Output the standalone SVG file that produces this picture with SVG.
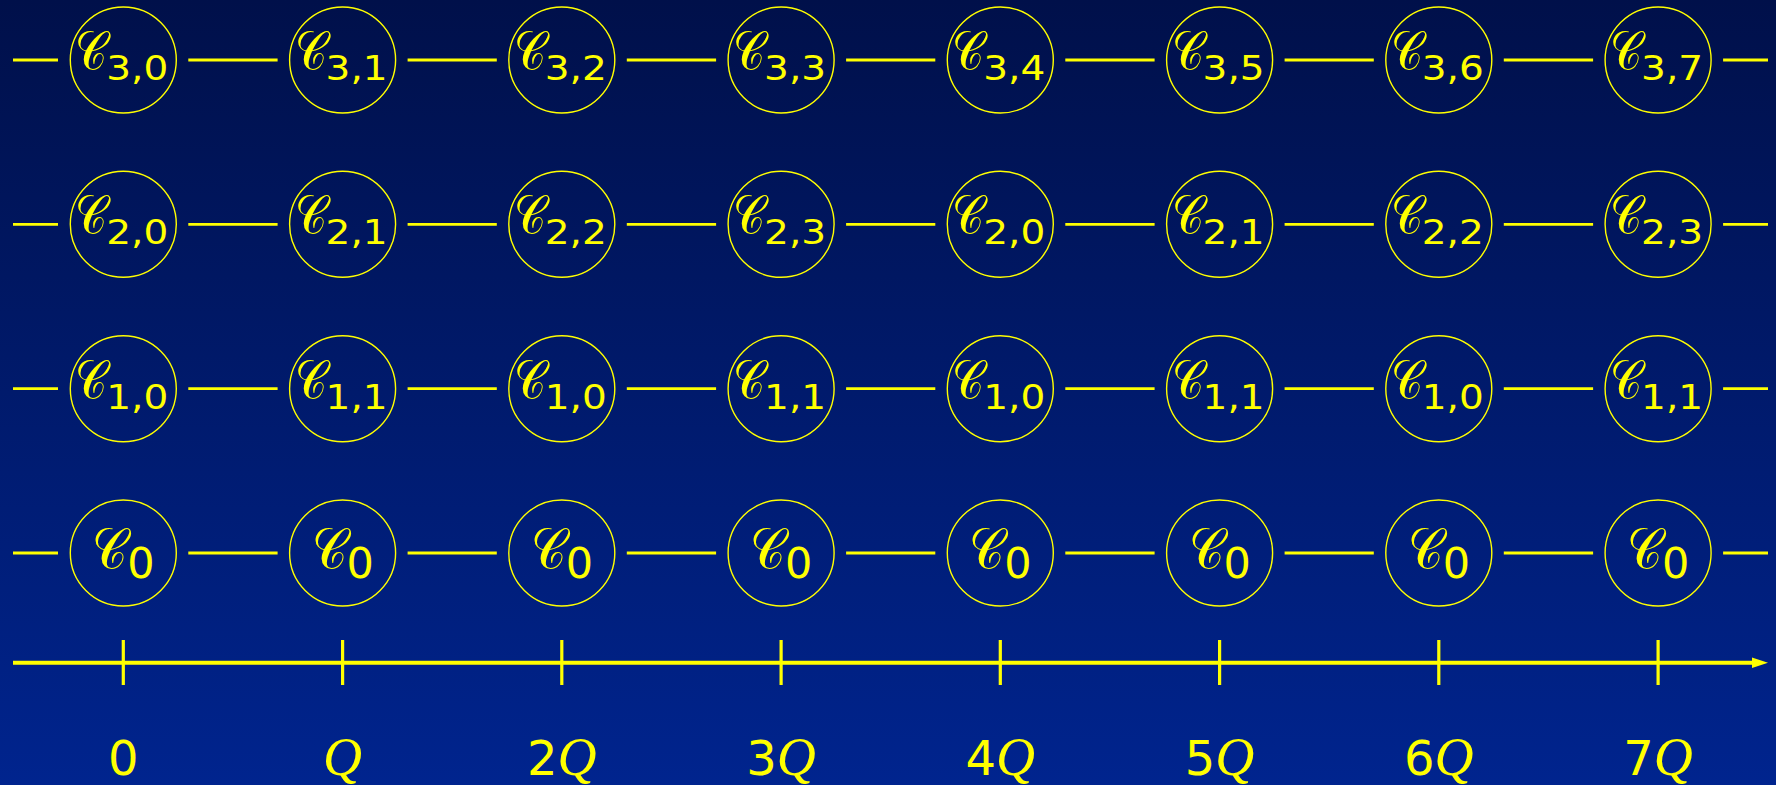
<svg xmlns="http://www.w3.org/2000/svg" width="1776" height="785" viewBox="0 0 1776 785">
<defs>
<linearGradient id="bg" x1="0" y1="0" x2="0" y2="1">
<stop offset="0" stop-color="#00104a"/>
<stop offset="1" stop-color="#00248e"/>
</linearGradient>
<style>
circle{fill:none;stroke:#ffff00;stroke-width:1.4}
.c{fill:#ffff00;font-family:"DejaVu Sans","Noto Sans",serif;font-size:44px}
.c0{font-size:48px}
.s{fill:#ffff00;font-family:"DejaVu Sans",sans-serif;font-size:33px}
.z{fill:#ffff00;font-family:"DejaVu Sans",sans-serif;font-size:43px}
.lbl{fill:#ffff00;font-family:"DejaVu Sans",sans-serif;font-size:48px;text-anchor:middle}
.q{font-family:"Liberation Serif",serif;font-style:italic;font-size:54px}
.ln{stroke:#ffff00;stroke-width:2.8;fill:none}
.ax{stroke:#ffff00;stroke-width:4;fill:none}
.tk{stroke:#ffff00;stroke-width:3.2;fill:none}
</style>
</defs>
<rect width="1776" height="785" fill="url(#bg)"/>
<g id="connectors">
<path class="ln" d="M13 60H58M188.3 60H277.6M407.6 60H496.8M626.8 60H716.1M846.1 60H935.3M1065.3 60H1154.6M1284.6 60H1373.8M1503.8 60H1593.1M1723.1 60H1768"/>
<path class="ln" d="M13 224.3H58M188.3 224.3H277.6M407.6 224.3H496.8M626.8 224.3H716.1M846.1 224.3H935.3M1065.3 224.3H1154.6M1284.6 224.3H1373.8M1503.8 224.3H1593.1M1723.1 224.3H1768"/>
<path class="ln" d="M13 388.7H58M188.3 388.7H277.6M407.6 388.7H496.8M626.8 388.7H716.1M846.1 388.7H935.3M1065.3 388.7H1154.6M1284.6 388.7H1373.8M1503.8 388.7H1593.1M1723.1 388.7H1768"/>
<path class="ln" d="M13 553H58M188.3 553H277.6M407.6 553H496.8M626.8 553H716.1M846.1 553H935.3M1065.3 553H1154.6M1284.6 553H1373.8M1503.8 553H1593.1M1723.1 553H1768"/>
</g>
<g id="axis">
<path class="ax" d="M13 662.7H1756"/>
<polygon points="1752,657.5 1768,662.7 1752,667.9" fill="#ffff00"/>
<path class="tk" d="M123.3 640V685M342.6 640V685M561.8 640V685M781.1 640V685M1000.3 640V685M1219.6 640V685M1438.8 640V685M1658.1 640V685"/>
<text class="lbl" x="123.3" y="775">0</text>
<text class="lbl" x="342.6" y="775"><tspan class="q">Q</tspan></text>
<text class="lbl" x="561.8" y="775">2<tspan class="q">Q</tspan></text>
<text class="lbl" x="781.1" y="775">3<tspan class="q">Q</tspan></text>
<text class="lbl" x="1000.3" y="775">4<tspan class="q">Q</tspan></text>
<text class="lbl" x="1219.6" y="775">5<tspan class="q">Q</tspan></text>
<text class="lbl" x="1438.8" y="775">6<tspan class="q">Q</tspan></text>
<text class="lbl" x="1658.1" y="775">7<tspan class="q">Q</tspan></text>
</g>
<g id="n3_0"><circle cx="123.3" cy="60" r="53"/><text class="c" transform="translate(75.3 70) scale(1 1.25)">𝒞</text><text class="s" x="106.3" y="80" textLength="62" lengthAdjust="spacingAndGlyphs">3,0</text></g>
<g id="n3_1"><circle cx="342.6" cy="60" r="53"/><text class="c" transform="translate(294.6 70) scale(1 1.25)">𝒞</text><text class="s" x="325.6" y="80" textLength="62" lengthAdjust="spacingAndGlyphs">3,1</text></g>
<g id="n3_2"><circle cx="561.8" cy="60" r="53"/><text class="c" transform="translate(513.8 70) scale(1 1.25)">𝒞</text><text class="s" x="544.8" y="80" textLength="62" lengthAdjust="spacingAndGlyphs">3,2</text></g>
<g id="n3_3"><circle cx="781.1" cy="60" r="53"/><text class="c" transform="translate(733.1 70) scale(1 1.25)">𝒞</text><text class="s" x="764.1" y="80" textLength="62" lengthAdjust="spacingAndGlyphs">3,3</text></g>
<g id="n3_4"><circle cx="1000.3" cy="60" r="53"/><text class="c" transform="translate(952.3 70) scale(1 1.25)">𝒞</text><text class="s" x="983.3" y="80" textLength="62" lengthAdjust="spacingAndGlyphs">3,4</text></g>
<g id="n3_5"><circle cx="1219.6" cy="60" r="53"/><text class="c" transform="translate(1171.6 70) scale(1 1.25)">𝒞</text><text class="s" x="1202.6" y="80" textLength="62" lengthAdjust="spacingAndGlyphs">3,5</text></g>
<g id="n3_6"><circle cx="1438.8" cy="60" r="53"/><text class="c" transform="translate(1390.8 70) scale(1 1.25)">𝒞</text><text class="s" x="1421.8" y="80" textLength="62" lengthAdjust="spacingAndGlyphs">3,6</text></g>
<g id="n3_7"><circle cx="1658.1" cy="60" r="53"/><text class="c" transform="translate(1610.1 70) scale(1 1.25)">𝒞</text><text class="s" x="1641.1" y="80" textLength="62" lengthAdjust="spacingAndGlyphs">3,7</text></g>
<g id="n2_0a"><circle cx="123.3" cy="224.3" r="53"/><text class="c" transform="translate(75.3 234.3) scale(1 1.25)">𝒞</text><text class="s" x="106.3" y="244.3" textLength="62" lengthAdjust="spacingAndGlyphs">2,0</text></g>
<g id="n2_1a"><circle cx="342.6" cy="224.3" r="53"/><text class="c" transform="translate(294.6 234.3) scale(1 1.25)">𝒞</text><text class="s" x="325.6" y="244.3" textLength="62" lengthAdjust="spacingAndGlyphs">2,1</text></g>
<g id="n2_2a"><circle cx="561.8" cy="224.3" r="53"/><text class="c" transform="translate(513.8 234.3) scale(1 1.25)">𝒞</text><text class="s" x="544.8" y="244.3" textLength="62" lengthAdjust="spacingAndGlyphs">2,2</text></g>
<g id="n2_3a"><circle cx="781.1" cy="224.3" r="53"/><text class="c" transform="translate(733.1 234.3) scale(1 1.25)">𝒞</text><text class="s" x="764.1" y="244.3" textLength="62" lengthAdjust="spacingAndGlyphs">2,3</text></g>
<g id="n2_0b"><circle cx="1000.3" cy="224.3" r="53"/><text class="c" transform="translate(952.3 234.3) scale(1 1.25)">𝒞</text><text class="s" x="983.3" y="244.3" textLength="62" lengthAdjust="spacingAndGlyphs">2,0</text></g>
<g id="n2_1b"><circle cx="1219.6" cy="224.3" r="53"/><text class="c" transform="translate(1171.6 234.3) scale(1 1.25)">𝒞</text><text class="s" x="1202.6" y="244.3" textLength="62" lengthAdjust="spacingAndGlyphs">2,1</text></g>
<g id="n2_2b"><circle cx="1438.8" cy="224.3" r="53"/><text class="c" transform="translate(1390.8 234.3) scale(1 1.25)">𝒞</text><text class="s" x="1421.8" y="244.3" textLength="62" lengthAdjust="spacingAndGlyphs">2,2</text></g>
<g id="n2_3b"><circle cx="1658.1" cy="224.3" r="53"/><text class="c" transform="translate(1610.1 234.3) scale(1 1.25)">𝒞</text><text class="s" x="1641.1" y="244.3" textLength="62" lengthAdjust="spacingAndGlyphs">2,3</text></g>
<g id="n1_0a"><circle cx="123.3" cy="388.7" r="53"/><text class="c" transform="translate(75.3 398.7) scale(1 1.25)">𝒞</text><text class="s" x="106.3" y="408.7" textLength="62" lengthAdjust="spacingAndGlyphs">1,0</text></g>
<g id="n1_1a"><circle cx="342.6" cy="388.7" r="53"/><text class="c" transform="translate(294.6 398.7) scale(1 1.25)">𝒞</text><text class="s" x="325.6" y="408.7" textLength="62" lengthAdjust="spacingAndGlyphs">1,1</text></g>
<g id="n1_0b"><circle cx="561.8" cy="388.7" r="53"/><text class="c" transform="translate(513.8 398.7) scale(1 1.25)">𝒞</text><text class="s" x="544.8" y="408.7" textLength="62" lengthAdjust="spacingAndGlyphs">1,0</text></g>
<g id="n1_1b"><circle cx="781.1" cy="388.7" r="53"/><text class="c" transform="translate(733.1 398.7) scale(1 1.25)">𝒞</text><text class="s" x="764.1" y="408.7" textLength="62" lengthAdjust="spacingAndGlyphs">1,1</text></g>
<g id="n1_0c"><circle cx="1000.3" cy="388.7" r="53"/><text class="c" transform="translate(952.3 398.7) scale(1 1.25)">𝒞</text><text class="s" x="983.3" y="408.7" textLength="62" lengthAdjust="spacingAndGlyphs">1,0</text></g>
<g id="n1_1c"><circle cx="1219.6" cy="388.7" r="53"/><text class="c" transform="translate(1171.6 398.7) scale(1 1.25)">𝒞</text><text class="s" x="1202.6" y="408.7" textLength="62" lengthAdjust="spacingAndGlyphs">1,1</text></g>
<g id="n1_0d"><circle cx="1438.8" cy="388.7" r="53"/><text class="c" transform="translate(1390.8 398.7) scale(1 1.25)">𝒞</text><text class="s" x="1421.8" y="408.7" textLength="62" lengthAdjust="spacingAndGlyphs">1,0</text></g>
<g id="n1_1d"><circle cx="1658.1" cy="388.7" r="53"/><text class="c" transform="translate(1610.1 398.7) scale(1 1.25)">𝒞</text><text class="s" x="1641.1" y="408.7" textLength="62" lengthAdjust="spacingAndGlyphs">1,1</text></g>
<g id="n0_0"><circle cx="123.3" cy="553" r="53"/><text class="c c0" transform="translate(92.3 569) scale(1 1.2)">𝒞</text><text class="z" x="127.3" y="578">0</text></g>
<g id="n0_1"><circle cx="342.6" cy="553" r="53"/><text class="c c0" transform="translate(311.6 569) scale(1 1.2)">𝒞</text><text class="z" x="346.6" y="578">0</text></g>
<g id="n0_2"><circle cx="561.8" cy="553" r="53"/><text class="c c0" transform="translate(530.8 569) scale(1 1.2)">𝒞</text><text class="z" x="565.8" y="578">0</text></g>
<g id="n0_3"><circle cx="781.1" cy="553" r="53"/><text class="c c0" transform="translate(750.1 569) scale(1 1.2)">𝒞</text><text class="z" x="785.1" y="578">0</text></g>
<g id="n0_4"><circle cx="1000.3" cy="553" r="53"/><text class="c c0" transform="translate(969.3 569) scale(1 1.2)">𝒞</text><text class="z" x="1004.3" y="578">0</text></g>
<g id="n0_5"><circle cx="1219.6" cy="553" r="53"/><text class="c c0" transform="translate(1188.6 569) scale(1 1.2)">𝒞</text><text class="z" x="1223.6" y="578">0</text></g>
<g id="n0_6"><circle cx="1438.8" cy="553" r="53"/><text class="c c0" transform="translate(1407.8 569) scale(1 1.2)">𝒞</text><text class="z" x="1442.8" y="578">0</text></g>
<g id="n0_7"><circle cx="1658.1" cy="553" r="53"/><text class="c c0" transform="translate(1627.1 569) scale(1 1.2)">𝒞</text><text class="z" x="1662.1" y="578">0</text></g>
</svg>
